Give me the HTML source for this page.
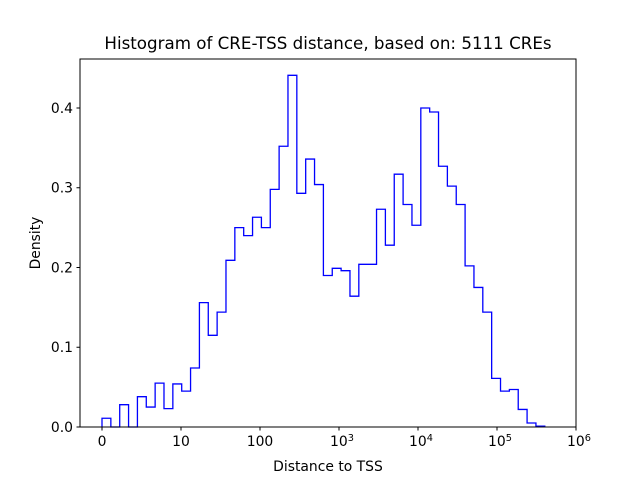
<!DOCTYPE html>
<html><head><meta charset="utf-8"><style>
body{margin:0;background:#fff;}
svg{display:block;font-family:"DejaVu Sans","Liberation Sans",sans-serif;}
</style></head><body>
<svg id="chart" width="640" height="480" viewBox="0 0 640 480">
<rect x="0" y="0" width="640" height="480" fill="#fff"/>
<text x="328" y="49" text-anchor="middle" font-size="16.7">Histogram of CRE-TSS distance, based on: 5111 CREs</text>
<text x="40" y="243" text-anchor="middle" font-size="13.9" transform="rotate(-90 40 243)">Density</text>
<text x="328" y="471" text-anchor="middle" font-size="13.9">Distance to TSS</text>
<g id="plot"></g>
<rect x="80" y="59" width="496" height="368" fill="none" stroke="#000" stroke-width="1"/>
</svg>
<script>
const densities=[0.011,0,0.028,0,0.038,0.025,0.055,0.023,0.054,0.045,0.074,0.156,0.115,0.144,0.209,0.25,0.24,0.263,0.25,0.298,0.352,0.441,0.293,0.336,0.304,0.19,0.199,0.196,0.164,0.204,0.204,0.273,0.228,0.317,0.279,0.253,0.4,0.395,0.327,0.302,0.279,0.202,0.175,0.144,0.061,0.045,0.047,0.022,0.005,0.001];
const binLogRange=[0,5.605];
const yTicks=[0,0.1,0.2,0.3,0.4];
const yTickLabels=["0.0","0.1","0.2","0.3","0.4"];
const xTickLogs=[0,1,2,3,4,5,6];
const xTickBase=["0","10","100","10","10","10","10"];
const xTickExp=["","","","3","4","5","6"];

const NS="http://www.w3.org/2000/svg";
const plot=document.getElementById('plot');
const X0=102,PXDEC=79,Y0=427,PXUNIT=797.5;
function xs(l){return X0+l*PXDEC;}
function ys(v){return Y0-v*PXUNIT;}
function mk(tag,attrs){const e=document.createElementNS(NS,tag);for(const k in attrs)e.setAttribute(k,attrs[k]);plot.appendChild(e);return e;}

const n=densities.length,w=(binLogRange[1]-binLogRange[0])/n;
let d="M"+xs(binLogRange[0])+","+ys(0);
densities.forEach((v,i)=>{
  const a=xs(binLogRange[0]+i*w),b=xs(binLogRange[0]+(i+1)*w);
  d+=" L"+a+","+ys(v)+" L"+b+","+ys(v);
});
d+=" L"+xs(binLogRange[1])+","+ys(0);
const p=mk('path',{d:d,fill:"none",stroke:"#0000ff","stroke-width":"1.3"});



yTicks.forEach((t,i)=>{
  const y=ys(t);
  const l=mk('line',{x1:76.5,x2:80,y1:y,y2:y,stroke:"#000"});
  
  
  const tx=mk('text',{x:73,y:y+4.8,"text-anchor":"end","font-size":"13.9"});
  tx.textContent=yTickLabels[i];
  
  
});
xTickLogs.forEach((t,i)=>{
  const x=xs(t);
  const l=mk('line',{x1:x,x2:x,y1:427,y2:430.5,stroke:"#000"});
  
  
  const tx=mk('text',{x:x,y:446,"text-anchor":"middle","font-size":"13.9"});
  tx.textContent=xTickBase[i];
  if(xTickExp[i]){
    const s=document.createElementNS(NS,'tspan');
    s.setAttribute('font-size','9.8');
    s.setAttribute('dy','-5');
    s.textContent=xTickExp[i];
    tx.appendChild(s);
    tx.setAttribute('x',x+3);
  }
  
  
});
</script>
</body></html>
